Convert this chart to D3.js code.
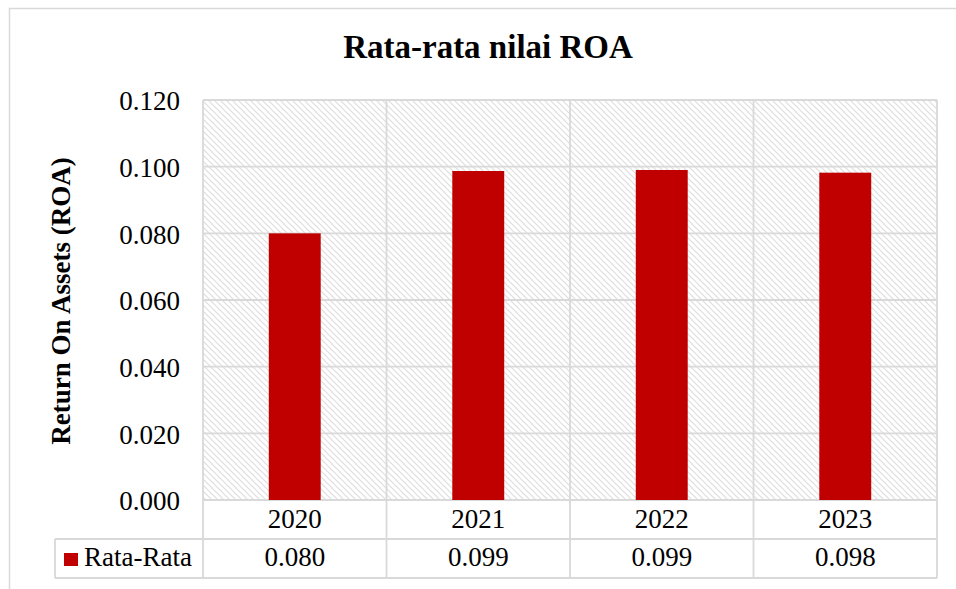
<!DOCTYPE html>
<html>
<head>
<meta charset="utf-8">
<script src="https://cdn.jsdelivr.net/npm/d3@7"></script>
<style>
  html, body { margin: 0; padding: 0; background: #ffffff; }
  svg { display: block; }
  text { font-family: "Liberation Serif", "Times New Roman", serif; fill: #000; }
</style>
</head>
<body>
<svg id="chart" width="956" height="589"></svg>
<script>
const categories = ["2020", "2021", "2022", "2023"];
const seriesName = "Rata-Rata";
const values = [0.0800, 0.0987, 0.0990, 0.0982];
const tableLabels = ["0.080", "0.099", "0.099", "0.098"];
const yTicks = [0, 0.02, 0.04, 0.06, 0.08, 0.10, 0.12];
const titleText = "Rata-rata nilai ROA";
const yTitle = "Return On Assets (ROA)";

const W = 956, H = 589;
const plot = { left: 203, right: 937, top: 100, bottom: 500 };
const row1 = 539, row2 = 578, legendLeft = 55;
const grid = "#d9d9d9";
const barColor = "#c00000";

const svg = d3.select("#chart");

const defs = svg.append("defs");
const pat = defs.append("pattern")
  .attr("id", "hatch").attr("patternUnits", "userSpaceOnUse")
  .attr("width", 6).attr("height", 6);
pat.append("rect").attr("width", 6).attr("height", 6).attr("fill", "#ffffff");
pat.append("path").attr("d", "M-1,-1 L7,7 M-1,5 L1,7 M5,-1 L7,1")
  .attr("stroke", "#dddddd").attr("stroke-width", 1.1);

// outer chart border
svg.append("rect").attr("x", 9.5).attr("y", 8.5).attr("width", W + 20).attr("height", H + 20)
  .attr("fill", "none").attr("stroke", grid).attr("stroke-width", 1.5);

const x = d3.scaleBand().domain(categories).range([plot.left, plot.right]).padding(0);
const y = d3.scaleLinear().domain([0, 0.12]).range([plot.bottom, plot.top]);

// plot background hatch
svg.append("rect").attr("x", plot.left).attr("y", plot.top)
  .attr("width", plot.right - plot.left).attr("height", plot.bottom - plot.top)
  .attr("fill", "url(#hatch)");

// horizontal gridlines
svg.append("g").selectAll("line").data(yTicks).join("line")
  .attr("x1", plot.left).attr("x2", plot.right)
  .attr("y1", d => y(d)).attr("y2", d => y(d))
  .attr("stroke", grid).attr("stroke-width", 1.8);

// vertical lines at category boundaries (plot + table)
const bounds = categories.map(c => x(c)).concat([plot.right]);
svg.append("g").selectAll("line").data(bounds).join("line")
  .attr("x1", d => d).attr("x2", d => d)
  .attr("y1", plot.top).attr("y2", row2)
  .attr("stroke", grid).attr("stroke-width", 1.8);

// bars
const barW = x.bandwidth() * 0.283;
svg.append("g").selectAll("rect").data(values).join("rect")
  .attr("x", (d, i) => x(categories[i]) + x.bandwidth() / 2 - barW / 2)
  .attr("y", d => y(d))
  .attr("width", barW)
  .attr("height", d => y(0) - y(d))
  .attr("fill", barColor);

// y axis labels
const yAxis = d3.axisLeft(y).tickValues(yTicks).tickFormat(d3.format(".3f"))
  .tickSize(0).tickPadding(23);
const gy = svg.append("g").attr("transform", `translate(${plot.left},0)`).call(yAxis);
gy.select(".domain").remove();
gy.attr("font-family", null);
gy.selectAll("text").attr("font-size", 27).attr("fill", "#000").attr("dy", "0.36em");

// table lines
svg.append("g").selectAll("line").data([row1, row2]).join("line")
  .attr("x1", legendLeft).attr("x2", plot.right)
  .attr("y1", d => d).attr("y2", d => d)
  .attr("stroke", grid).attr("stroke-width", 1.8);
svg.append("line").attr("x1", legendLeft).attr("x2", legendLeft)
  .attr("y1", row1).attr("y2", row2).attr("stroke", grid).attr("stroke-width", 1.8);

// category labels (x axis)
const xAxis = d3.axisBottom(x).tickSize(0).tickPadding(0);
const gx = svg.append("g").attr("transform", `translate(0,${plot.bottom})`).call(xAxis);
gx.select(".domain").remove();
gx.attr("font-family", null);
gx.selectAll("text").attr("font-size", 27).attr("fill", "#000").attr("y", 28).attr("dy", 0);

// table values
svg.append("g").selectAll("text").data(tableLabels).join("text")
  .attr("x", (d, i) => x(categories[i]) + x.bandwidth() / 2)
  .attr("y", 566).attr("text-anchor", "middle").attr("font-size", 27)
  .text(d => d);

// legend key
svg.append("rect").attr("x", 64).attr("y", 553).attr("width", 14).attr("height", 13).attr("fill", barColor);
svg.append("text").attr("x", 84).attr("y", 566).attr("font-size", 27).text(seriesName);

// title
svg.append("text").attr("x", 488).attr("y", 58).attr("text-anchor", "middle")
  .attr("font-size", 33).attr("font-weight", "bold").text(titleText);

// y title
svg.append("text").attr("transform", `translate(70,301) rotate(-90)`)
  .attr("text-anchor", "middle").attr("font-size", 27).attr("font-weight", "bold").text(yTitle);
</script>
</body>
</html>
